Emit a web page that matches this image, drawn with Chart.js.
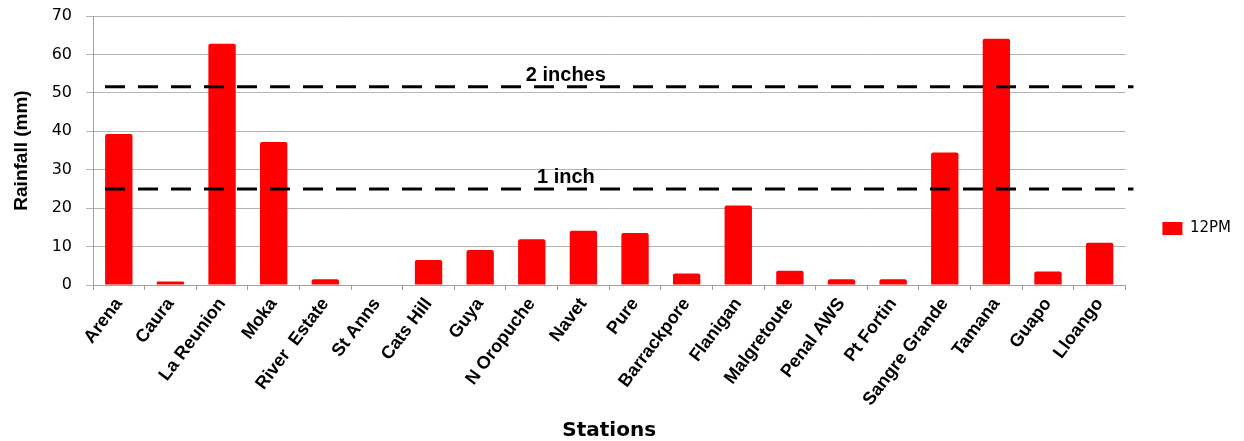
<!DOCTYPE html>
<html>
<head>
<meta charset="utf-8">
<script src="https://cdn.jsdelivr.net/npm/chart.js@4.4.0/dist/chart.umd.min.js"></script>
<style>
  body { margin: 0; background: #fff; }
  #wrap { width: 1244px; height: 441px; }
</style>
</head>
<body>
<div id="wrap"><canvas id="myChart"></canvas></div>
<script>
let stations = ["Arena", "Caura", "La Reunion", "Moka", "River  Estate", "St Anns", "Cats Hill", "Guya", "N Oropuche", "Navet",
                "Pure", "Barrackpore", "Flanigan", "Malgretoute", "Penal AWS", "Pt Fortin", "Sangre Grande", "Tamana", "Guapo", "Lloango"]
let rain12pm = [39.3, 0.9, 62.8, 37.2, 1.5, 0, 6.5, 9.1, 11.9, 14.1,
                13.5, 3.0, 20.7, 3.7, 1.5, 1.5, 34.5, 64.1, 3.5, 11.0]
let refValues = [51.6, 25]
let refLabels = ["2 inches", "1 inch"]
const seriesName = "12PM"
const barColor = "#ff0000"

// dashed threshold lines with their captions
const refLinesPlugin = {
    id: "refLines",
    afterDatasetsDraw(chart) {
        const ctx = chart.ctx
        const area = chart.chartArea
        const y = chart.scales.y
        ctx.save()
        for (let i = 0; i < refValues.length; i++) {
            let py = y.getPixelForValue(refValues[i])
            ctx.beginPath()
            ctx.setLineDash([20, 13])
            ctx.lineWidth = 3
            ctx.strokeStyle = "#000"
            ctx.moveTo(area.left + 12, py)
            ctx.lineTo(area.right + 8, py)
            ctx.stroke()
            ctx.setLineDash([])
            ctx.fillStyle = "#000"
            ctx.font = "bold 20px 'Liberation Sans', Arial, sans-serif"
            ctx.textAlign = "center"
            ctx.textBaseline = "alphabetic"
            ctx.fillText(refLabels[i], area.left + (area.right - area.left) * 0.458, py - 6)
        }
        ctx.restore()
    }
}

new Chart("myChart", {
    type: "bar",
    data: {
        labels: stations,
        datasets: [{
            label: seriesName,
            data: rain12pm,
            backgroundColor: barColor,
            borderRadius: 2,
            borderSkipped: "bottom",
            categoryPercentage: 1,
            barPercentage: 0.53
        }]
    },
    plugins: [refLinesPlugin],
    options: {
        responsive: true,
        maintainAspectRatio: false,
        animation: false,
        layout: { padding: { top: 16, left: 0, right: 3, bottom: 0 } },
        plugins: {
            legend: {
                position: "right",
                labels: {
                    boxWidth: 20,
                    boxHeight: 13,
                    padding: 37,
                    color: "#000",
                    font: { family: "'DejaVu Sans', sans-serif", size: 15 }
                }
            },
            tooltip: { enabled: false }
        },
        scales: {
            x: {
                afterFit(scale) { scale.height = 156 },
                grid: {
                    offset: true,
                    drawOnChartArea: false,
                    drawTicks: true,
                    tickLength: 5,
                    color: "#a0a0a0"
                },
                border: { color: "#a0a0a0" },
                ticks: {
                    autoSkip: false,
                    minRotation: 53,
                    maxRotation: 53,
                    padding: 4,
                    color: "#000",
                    font: { family: "'Liberation Sans', Arial, sans-serif", size: 18, weight: "bold" }
                },
                title: {
                    display: true,
                    text: "Stations",
                    color: "#000",
                    padding: { top: 0, bottom: 0 },
                    font: { family: "'DejaVu Sans', sans-serif", size: 20, weight: "bold", lineHeight: 1 }
                }
            },
            y: {
                min: 0,
                max: 70,
                afterFit(scale) {
                    scale.width = 93
                    scale.paddingTop = 0
                    scale.paddingBottom = 0
                },
                grid: {
                    color: "#b4b4b4",
                    tickLength: 7
                },
                border: { color: "#a0a0a0" },
                ticks: {
                    stepSize: 10,
                    padding: 14,
                    color: "#000",
                    font: { family: "'DejaVu Sans', sans-serif", size: 16 }
                },
                title: {
                    display: true,
                    text: "Rainfall (mm)",
                    color: "#000",
                    padding: { top: 10, bottom: 0 },
                    font: { family: "'Liberation Sans', Arial, sans-serif", size: 19, weight: "bold" }
                }
            }
        }
    }
});
</script>
</body>
</html>
